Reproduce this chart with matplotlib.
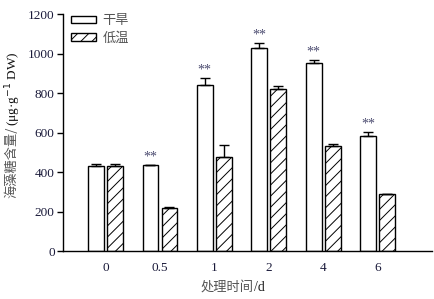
import matplotlib
matplotlib.use("Agg")
import matplotlib.pyplot as plt
import numpy as np

categories = ["0", "0.5", "1", "2", "4", "6"]
drought = [430, 434, 840, 1026, 950, 584]
drought_err = [12, 4, 36, 29, 17, 20]
cold = [430, 218, 474, 819, 533, 287]
cold_err = [12, 3, 63, 15, 7, 4]
signif = ["", "**", "**", "**", "**", "**"]

plt.rcParams['hatch.linewidth'] = 0.7
serif = ['Liberation Serif', 'DejaVu Serif']
cjk = ['Noto Sans CJK SC', 'DejaVu Sans']

fig = plt.figure(figsize=(4.35, 2.99), dpi=100)
ax = fig.add_axes([0.145, 0.1605, 0.848, 0.7925])

x = np.arange(len(categories))
w = 0.29
off = 0.175
ax.bar(x - off, drought, w, color='white', edgecolor='black', linewidth=1.0, label='干旱', zorder=2)
ax.bar(x + off, cold, w, color='white', edgecolor='black', linewidth=1.0, hatch='///', label='低温', zorder=2)
ax.errorbar(x - off, drought, yerr=[np.zeros(len(x)), drought_err], fmt='none', ecolor='black', elinewidth=1.0, capsize=3.5, capthick=1.0, zorder=3)
ax.errorbar(x + off, cold, yerr=[np.zeros(len(x)), cold_err], fmt='none', ecolor='black', elinewidth=1.0, capsize=3.5, capthick=1.0, zorder=3)

for xi, v, e, s in zip(x - off, drought, drought_err, signif):
    if s:
        ax.text(xi, v + e + 6, s, ha='center', va='bottom', fontsize=10, color='#4b4b70', family=serif)

ax.set_xlim(-0.78, 6.0)
ax.set_ylim(0, 1200)
ax.set_yticks(range(0, 1201, 200))
ax.set_xticks(x)
ax.set_xticklabels(categories)
for sp in ['top', 'right']:
    ax.spines[sp].set_visible(False)
ax.spines['left'].set_linewidth(1.0)
ax.spines['bottom'].set_linewidth(1.0)
ax.tick_params(axis='y', direction='out', length=4, width=1.0, labelsize=9.5, pad=2)
ax.tick_params(axis='x', length=0, labelsize=9.5, pad=8)
for lab in ax.get_xticklabels() + ax.get_yticklabels():
    lab.set_family(serif)
    lab.set_color('#1a1a3a')

# y label: Chinese part (gray) + unit part (black serif)
fig.canvas.draw()
r = fig.canvas.get_renderer()
t1 = fig.text(0.028, 1 - 198 / 299, '海藻糖含量/', rotation=90, ha='center', va='bottom',
              fontsize=9.5, color='#555555', family=cjk)
bb = t1.get_window_extent(r)
t2 = fig.text(0.030, (bb.y1 + 1) / fig.bbox.height, '(μg·g$^{-1}$ DW)', rotation=90, ha='center', va='bottom',
              fontsize=9.5, color='#111111', family=serif)

# x label
t3 = fig.text(0.46, 0.04, '处理时间', ha='left', va='center', fontsize=9.5, color='#555555', family=cjk)
bb3 = t3.get_window_extent(r)
fig.text((bb3.x1 + 1) / fig.bbox.width, 0.04, '/d', ha='left', va='center', fontsize=10, color='#222222', family=serif)

leg = ax.legend(loc='upper left', bbox_to_anchor=(-0.01, 1.05), frameon=False,
                handlelength=1.9, handleheight=0.5, handletextpad=0.45, labelspacing=0.35,
                prop={'family': cjk, 'size': 9.5})
for t in leg.get_texts():
    t.set_color('#555555')

fig.savefig('out.png', dpi=100)
